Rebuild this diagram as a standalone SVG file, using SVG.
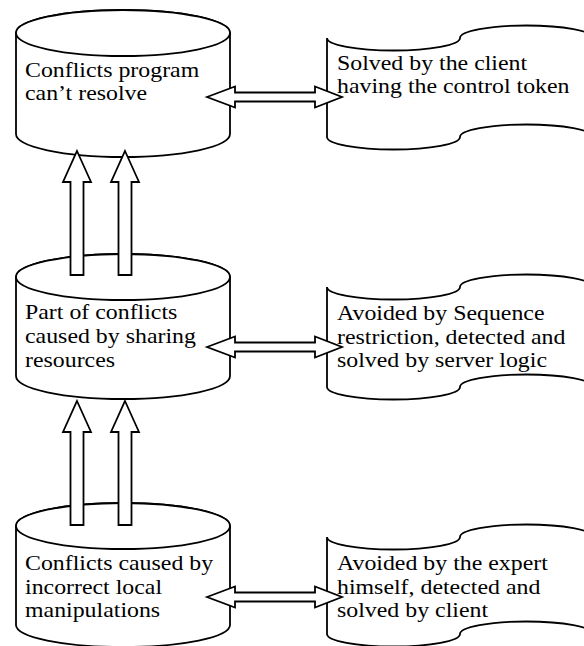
<svg xmlns="http://www.w3.org/2000/svg" width="584" height="646" viewBox="0 0 584 646">
<style>
.sh{fill:#fff;stroke:#000;stroke-width:1.8;stroke-linejoin:miter}
.ar{fill:#fff;stroke:#000;stroke-width:1.8;stroke-linejoin:miter}
text{font-family:'Liberation Serif',serif;font-size:21px;fill:#000}
</style>
<rect width="584" height="646" fill="#fff"/>
<g id="cyl1">
<path class="sh" d="M16,33 L16,134 A107,23 0 0 0 230,134 L230,33 A107,23 0 0 0 16,33 Z"/>
<ellipse class="sh" cx="123" cy="33" rx="107" ry="23"/>
<text transform="translate(25,77) scale(1.136,1)">Conflicts program</text>
<text transform="translate(25,100) scale(1.136,1)">can’t resolve</text>
</g>
<g id="cyl2">
<path class="sh" d="M16,277 L16,376 A107,23 0 0 0 230,376 L230,277 A107,23 0 0 0 16,277 Z"/>
<ellipse class="sh" cx="123" cy="277" rx="107" ry="23"/>
<text transform="translate(25,319) scale(1.136,1)">Part of conflicts</text>
<text transform="translate(25,343) scale(1.136,1)">caused by sharing</text>
<text transform="translate(25,367) scale(1.136,1)">resources</text>
</g>
<g id="cyl3">
<path class="sh" d="M16,526 L16,625 A107,22 0 0 0 230,625 L230,526 A107,23 0 0 0 16,526 Z"/>
<ellipse class="sh" cx="123" cy="526" rx="107" ry="23"/>
<text transform="translate(25,570) scale(1.136,1)">Conflicts caused by</text>
<text transform="translate(25,594) scale(1.136,1)">incorrect local</text>
<text transform="translate(25,617) scale(1.136,1)">manipulations</text>
</g>
<g id="tape1">
<path class="sh" d="M327,38 A66.5,12.5 0 0 0 460,38 A66.5,12.5 0 0 1 593,38 L593,137 A66.5,12.5 0 0 0 460,137 A66.5,12.5 0 0 1 327,137 Z"/>
<text transform="translate(337,70) scale(1.136,1)">Solved by the client</text>
<text transform="translate(337,93) scale(1.136,1)">having the control token</text>
</g>
<g id="tape2">
<path class="sh" d="M327,287 A66.5,12.5 0 0 0 460,287 A66.5,12.5 0 0 1 593,287 L593,387 A66.5,12.5 0 0 0 460,387 A66.5,12.5 0 0 1 327,387 Z"/>
<text transform="translate(337,320) scale(1.136,1)">Avoided by Sequence</text>
<text transform="translate(337,344) scale(1.136,1)">restriction, detected and</text>
<text transform="translate(337,367) scale(1.136,1)">solved by server logic</text>
</g>
<g id="tape3">
<path class="sh" d="M327,537 A66.5,12.5 0 0 0 460,537 A66.5,12.5 0 0 1 593,537 L593,634 A66.5,12.5 0 0 0 460,634 A66.5,12.5 0 0 1 327,634 Z"/>
<text transform="translate(337,570) scale(1.136,1)">Avoided by the expert</text>
<text transform="translate(337,594) scale(1.136,1)">himself, detected and</text>
<text transform="translate(337,617) scale(1.136,1)">solved by client</text>
</g>
<g id="connectors">
<polygon class="ar" points="77,151 91,182 83.5,182 83.5,275 70.5,275 70.5,182 63,182"/>
<polygon class="ar" points="125,151 139,182 131.5,182 131.5,275 118.5,275 118.5,182 111,182"/>
<polygon class="ar" points="77,401 91,432 83.5,432 83.5,525 70.5,525 70.5,432 63,432"/>
<polygon class="ar" points="125,401 139,432 131.5,432 131.5,525 118.5,525 118.5,432 111,432"/>
<polygon class="ar" points="207,97 235,86.5 235,92.5 315,92.5 315,86.5 342,97 315,107.5 315,101.5 235,101.5 235,107.5"/>
<polygon class="ar" points="207,347 235,336.5 235,342.5 315,342.5 315,336.5 342,347 315,357.5 315,351.5 235,351.5 235,357.5"/>
<polygon class="ar" points="207,597 235,586.5 235,592.5 315,592.5 315,586.5 342,597 315,607.5 315,601.5 235,601.5 235,607.5"/>
</g>
</svg>
